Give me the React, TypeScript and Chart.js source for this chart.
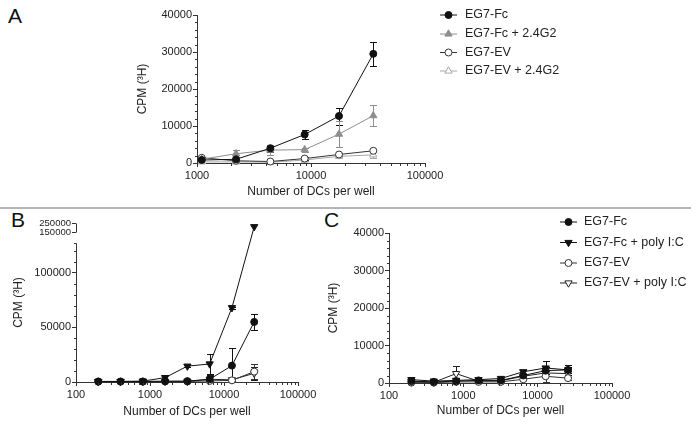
import React, { useEffect, useRef } from "react";
import { Chart, registerables } from "chart.js";
import { drawPoint } from "chart.js/helpers";

Chart.register(...registerables);

const FONT = "'Liberation Sans', Arial, Helvetica, sans-serif";
const INK = "#222222";
const AXIS = "#333333";
const W = 691;
const H = 425;

// ---------- Panel A ----------
const dcA = [1100, 2200, 4400, 8800, 17600, 35200];
const aFc = [800, 1000, 4000, 7700, 12700, 29500];
const aFcErr = [300, 500, 1000, 1300, 2300, 3300];
const aFcG2 = [1000, 2500, 3500, 3600, 7800, 12800];
const aFcG2Err = [400, 1000, 1300, 500, 3500, 2800];
const aEV = [1400, 600, 400, 1200, 2300, 3300];
const aEVErr = [300, 200, 200, 300, 400, 400];
const aEVG2 = [300, 300, 200, 800, 1800, 2200];
const aEVG2Err = [200, 200, 200, 300, 400, 800];
const xTicksA = [1000, 10000, 100000];
const yTicksA = [0, 10000, 20000, 30000, 40000];
const labelsA = ["EG7-Fc", "EG7-Fc + 2.4G2", "EG7-EV", "EG7-EV + 2.4G2"];

// ---------- Panels B and C ----------
const dcBC = [200, 400, 800, 1600, 3200, 6400, 12800, 25600];
const xTicksBC = [100, 1000, 10000, 100000];
const labelsBC = ["EG7-Fc", "EG7-Fc + poly I:C", "EG7-EV", "EG7-EV + poly I:C"];

const bFc = [500, 500, 500, 800, 800, 2500, 15000, 55000];
const bFcErr = [200, 200, 200, 300, 300, 3000, 16000, 7500];
const bFcPIC = [500, 500, 800, 4000, 14500, 16500, 68000, 210000];
const bFcPICErr = [200, 200, 300, 2000, 1000, 9000, 1000, 0];
const bEV = [300, 300, 300, 500, 500, 1000, 1500, 9500];
const bEVErr = [100, 100, 100, 200, 200, 500, 500, 7000];
const bEVPIC = [300, 300, 300, 500, 500, 2500, 2000, 8000];
const bEVPICErr = [100, 100, 100, 200, 200, 4000, 800, 6000];
const yTicksB = [0, 50000, 100000, 150000, 250000];

const cFc = [500, 300, 500, 700, 700, 2000, 3300, 3500];
const cFcErr = [200, 200, 200, 300, 300, 500, 1000, 800];
const cFcPIC = [900, 500, 700, 900, 1200, 3000, 4000, 3500];
const cFcPICErr = [300, 200, 300, 300, 300, 600, 2000, 1300];
const cEV = [100, 100, 300, 300, 300, 1000, 1800, 1300];
const cEVErr = [100, 100, 100, 100, 100, 300, 1500, 400];
const cEVPIC = [400, 200, 2500, 500, 600, 1800, 2700, 2500];
const cEVPICErr = [200, 100, 2000, 200, 200, 700, 800, 800];
const yTicksC = [0, 10000, 20000, 30000, 40000];

// broken y axis of panel B
const B_LOW_MAX = 127000;
const B_UP_FROM = 150000;
const B_UP_BASE = 137000;
const B_UP_RATE = 0.085;
const identity = (v: number) => v;
const brkB = (v: number) => (v <= B_LOW_MAX ? v : B_UP_BASE + (v - B_UP_FROM) * B_UP_RATE);

function logMinor(min: number, max: number) {
  const out: number[] = [];
  for (let d = min; d < max; d *= 10) for (let m = 2; m < 10; m++) out.push(d * m);
  return out;
}
function linMinor(from: number, to: number, step: number, skip: number) {
  const out: number[] = [];
  for (let v = from; v <= to; v += step) if (v % skip !== 0) out.push(v);
  return out;
}

type Style = { color: string; fill: string; shape: string; rot: number; r: number };
const FILLED_CIRCLE: Style = { color: "#111", fill: "#111", shape: "circle", rot: 0, r: 3.5 };
const OPEN_CIRCLE: Style = { color: "#333", fill: "#fff", shape: "circle", rot: 0, r: 3.5 };
const FILLED_DOWN: Style = { color: "#111", fill: "#111", shape: "triangle", rot: 180, r: 4.2 };
const OPEN_DOWN: Style = { color: "#222", fill: "#fff", shape: "triangle", rot: 180, r: 4.2 };
const GRAY_UP: Style = { color: "#8e8e8e", fill: "#8e8e8e", shape: "triangle", rot: 0, r: 4.2 };
const LIGHT_OPEN_UP: Style = { color: "#a8a8a8", fill: "#fff", shape: "triangle", rot: 0, r: 4.2 };

function buildDatasets(xs: number[], labels: string[], values: number[][], errors: number[][], styles: Style[], map: (v: number) => number) {
  return labels.map((label, k) => ({
    label,
    data: xs.map((x, i) => ({ x, y: map(values[k][i]) })),
    rawValues: values[k],
    errors: errors[k],
    yMap: map,
    borderColor: styles[k].color,
    backgroundColor: styles[k].fill,
    borderWidth: 1,
    pointStyle: styles[k].shape,
    pointRotation: styles[k].rot,
    pointRadius: styles[k].r,
    pointHoverRadius: styles[k].r,
    pointBackgroundColor: styles[k].fill,
    pointBorderColor: styles[k].color,
    pointBorderWidth: 1,
    tension: 0,
    fill: false,
    clip: false,
  }));
}

const alignPx = (p: number) => Math.round(p - 0.5) + 0.5;

const errorBarPlugin = {
  id: "errorBarsCustom",
  beforeDatasetsDraw(chart: any) {
    const { ctx } = chart;
    const xs = chart.scales.x;
    const ys = chart.scales.y;
    chart.data.datasets.forEach((ds: any) => {
      if (!ds.errors) return;
      ctx.save();
      ctx.strokeStyle = ds.borderColor;
      ctx.lineWidth = 1;
      ds.data.forEach((p: any, j: number) => {
        const e = ds.errors[j];
        if (!e) return;
        const v = ds.rawValues[j];
        const px = Math.round(xs.getPixelForValue(p.x)) + 0.5;
        const top = Math.round(ys.getPixelForValue(ds.yMap(v + e))) + 0.5;
        const bot = Math.round(ys.getPixelForValue(ds.yMap(Math.max(v - e, 0)))) + 0.5;
        ctx.beginPath();
        ctx.moveTo(px, top);
        ctx.lineTo(px, bot);
        ctx.moveTo(px - 3.5, top);
        ctx.lineTo(px + 3.5, top);
        if (v - e > 0) {
          ctx.moveTo(px - 3.5, bot);
          ctx.lineTo(px + 3.5, bot);
        }
        ctx.stroke();
      });
      ctx.restore();
    });
  },
};

function axisExtras(xMinor: number[], yMinor: number[], yMap: (v: number) => number, segments: number[][] | null) {
  return {
    id: "axisExtras",
    afterDraw(chart: any) {
      const { ctx, chartArea: ca } = chart;
      const xs = chart.scales.x;
      const ys = chart.scales.y;
      const left = alignPx(ca.left);
      const bottom = alignPx(ca.bottom);
      ctx.save();
      ctx.strokeStyle = AXIS;
      ctx.lineWidth = 1;
      ctx.beginPath();
      xMinor.forEach((v) => {
        const px = Math.round(xs.getPixelForValue(v)) + 0.5;
        ctx.moveTo(px, bottom);
        ctx.lineTo(px, bottom + 2.5);
      });
      yMinor.forEach((v) => {
        const py = Math.round(ys.getPixelForValue(yMap(v))) + 0.5;
        ctx.moveTo(left, py);
        ctx.lineTo(left - 2.5, py);
      });
      if (segments) {
        segments.forEach(([a, b]) => {
          ctx.moveTo(left, Math.round(ys.getPixelForValue(yMap(a))) + 0.5);
          ctx.lineTo(left, Math.round(ys.getPixelForValue(yMap(b))) + 0.5);
        });
      }
      ctx.stroke();
      ctx.restore();
    },
  };
}

function sideLegend(x0: number, x1: number, xText: number, rows: number[], size: number) {
  return {
    id: "sideLegend",
    afterDraw(chart: any) {
      const { ctx } = chart;
      ctx.save();
      chart.data.datasets.forEach((ds: any, i: number) => {
        const y = rows[i];
        ctx.strokeStyle = ds.borderColor;
        ctx.lineWidth = 1;
        ctx.beginPath();
        ctx.moveTo(x0, y);
        ctx.lineTo(x1, y);
        ctx.stroke();
        ctx.fillStyle = ds.pointBackgroundColor;
        ctx.strokeStyle = ds.pointBorderColor;
        drawPoint(ctx, { pointStyle: ds.pointStyle, rotation: ds.pointRotation, radius: ds.pointRadius, borderWidth: 1 } as any, (x0 + x1) / 2, y);
        ctx.fillStyle = INK;
        ctx.font = `${size}px ${FONT}`;
        ctx.textBaseline = "middle";
        ctx.textAlign = "left";
        ctx.fillText(ds.label, xText, y);
      });
      ctx.restore();
    },
  };
}

type PanelSpec = {
  area: { l: number; r: number; t: number; b: number };
  yW: number;
  xH: number;
  xMin: number;
  xMax: number;
  xTicks: number[];
  yMax: number;
  yTicks: number[];
  yMap: (v: number) => number;
  yBorder: boolean;
  datasets: any[];
  plugins: any[];
  smallAbove?: number;
};

function makeConfig(p: PanelSpec): any {
  const tickFont = { family: FONT, size: 11 };
  return {
    type: "line",
    data: { datasets: p.datasets },
    options: {
      animation: false,
      responsive: false,
      maintainAspectRatio: false,
      devicePixelRatio: 1,
      layout: {
        padding: { left: p.area.l - p.yW, right: W - p.area.r, top: p.area.t, bottom: H - p.area.b - p.xH },
      },
      plugins: { legend: { display: false }, tooltip: { enabled: false } },
      scales: {
        x: {
          type: "logarithmic",
          min: p.xMin,
          max: p.xMax,
          afterBuildTicks: (s: any) => {
            s.ticks = p.xTicks.map((v) => ({ value: v }));
          },
          afterFit: (s: any) => {
            s.height = p.xH;
          },
          ticks: { autoSkip: false, maxRotation: 0, font: tickFont, color: INK, padding: 2, callback: (v: any) => String(v) },
          grid: { display: true, drawOnChartArea: false, drawTicks: true, tickLength: 4, color: AXIS },
          border: { display: true, color: AXIS, width: 1 },
          title: { display: true, text: "Number of DCs per well", font: { family: FONT, size: 12 }, color: INK, padding: 0 },
        },
        y: {
          type: "linear",
          min: 0,
          max: p.yMax,
          afterBuildTicks: (s: any) => {
            s.ticks = p.yTicks.map((v) => ({ value: p.yMap(v) }));
          },
          afterFit: (s: any) => {
            s.width = p.yW;
          },
          ticks: {
            autoSkip: false,
            font: (c: any) => ({ family: FONT, size: p.smallAbove && c.tick && c.tick.value > p.smallAbove ? 9.5 : 11 }),
            color: INK,
            padding: 1,
            callback: (val: any) => {
              const found = p.yTicks.find((v) => Math.abs(p.yMap(v) - val) < 1);
              return found === undefined ? "" : String(found);
            },
          },
          grid: { display: true, drawOnChartArea: false, drawTicks: true, tickLength: 4, color: AXIS },
          border: { display: p.yBorder, color: AXIS, width: 1 },
          title: { display: true, text: "CPM (³H)", font: { family: FONT, size: 12 }, color: INK, padding: 0 },
        },
      },
    },
    plugins: [errorBarPlugin, ...p.plugins],
  };
}

const specA: PanelSpec = {
  area: { l: 197, r: 425, t: 15, b: 163 },
  yW: 62,
  xH: 36,
  xMin: 1000,
  xMax: 100000,
  xTicks: xTicksA,
  yMax: 40000,
  yTicks: yTicksA,
  yMap: identity,
  yBorder: true,
  datasets: buildDatasets(
    dcA,
    labelsA,
    [aFc, aFcG2, aEV, aEVG2],
    [aFcErr, aFcG2Err, aEVErr, aEVG2Err],
    [FILLED_CIRCLE, GRAY_UP, OPEN_CIRCLE, LIGHT_OPEN_UP],
    identity
  ),
  plugins: [
    axisExtras(logMinor(1000, 100000), linMinor(0, 40000, 2000, 10000), identity, null),
    sideLegend(440, 457, 465, [15, 34, 52.5, 71], 12.5),
  ],
};

const specB: PanelSpec = {
  area: { l: 76, r: 298, t: 223, b: 382 },
  yW: 65,
  xH: 37,
  xMin: 100,
  xMax: 100000,
  xTicks: xTicksBC,
  yMax: brkB(250000),
  yTicks: yTicksB,
  yMap: brkB,
  yBorder: false,
  smallAbove: 130000,
  datasets: buildDatasets(
    dcBC,
    labelsBC,
    [bFc, bFcPIC, bEV, bEVPIC],
    [bFcErr, bFcPICErr, bEVErr, bEVPICErr],
    [FILLED_CIRCLE, FILLED_DOWN, OPEN_CIRCLE, OPEN_DOWN],
    brkB
  ),
  plugins: [
    axisExtras(logMinor(100, 100000), linMinor(0, 120000, 10000, 50000).concat([B_LOW_MAX]), brkB, [
      [0, B_LOW_MAX],
      [B_UP_FROM, 250000],
    ]),
  ],
};

const specC: PanelSpec = {
  area: { l: 389, r: 612, t: 233, b: 383 },
  yW: 63,
  xH: 35,
  xMin: 100,
  xMax: 100000,
  xTicks: xTicksBC,
  yMax: 40000,
  yTicks: yTicksC,
  yMap: identity,
  yBorder: true,
  datasets: buildDatasets(
    dcBC,
    labelsBC,
    [cFc, cFcPIC, cEV, cEVPIC],
    [cFcErr, cFcPICErr, cEVErr, cEVPICErr],
    [FILLED_CIRCLE, FILLED_DOWN, OPEN_CIRCLE, OPEN_DOWN],
    identity
  ),
  plugins: [
    axisExtras(logMinor(100, 100000), linMinor(0, 40000, 2000, 10000), identity, null),
    sideLegend(560, 577, 584, [222, 242.5, 263, 283], 12.5),
  ],
};

function Panel({ spec }: { spec: PanelSpec }) {
  const ref = useRef<HTMLCanvasElement | null>(null);
  useEffect(() => {
    if (!ref.current) return;
    const chart = new Chart(ref.current, makeConfig(spec));
    return () => chart.destroy();
  }, [spec]);
  return <canvas ref={ref} width={W} height={H} style={{ position: "absolute", left: 0, top: 0, width: W, height: H }} />;
}

const letterStyle = (left: number, top: number): React.CSSProperties => ({
  position: "absolute",
  left,
  top,
  fontFamily: FONT,
  fontSize: 21,
  lineHeight: "21px",
  color: "#111",
});

export default function App() {
  return (
    <div style={{ position: "fixed", left: 0, top: 0, width: W, height: H, background: "#fff", overflow: "hidden" }}>
      <div style={{ position: "absolute", left: 0, top: 207, width: W, height: 2, background: "#b4b4b4" }} />
      <div style={letterStyle(8, 5)}>A</div>
      <div style={letterStyle(11, 209)}>B</div>
      <div style={letterStyle(324, 209)}>C</div>
      <Panel spec={specA} />
      <Panel spec={specB} />
      <Panel spec={specC} />
    </div>
  );
}
